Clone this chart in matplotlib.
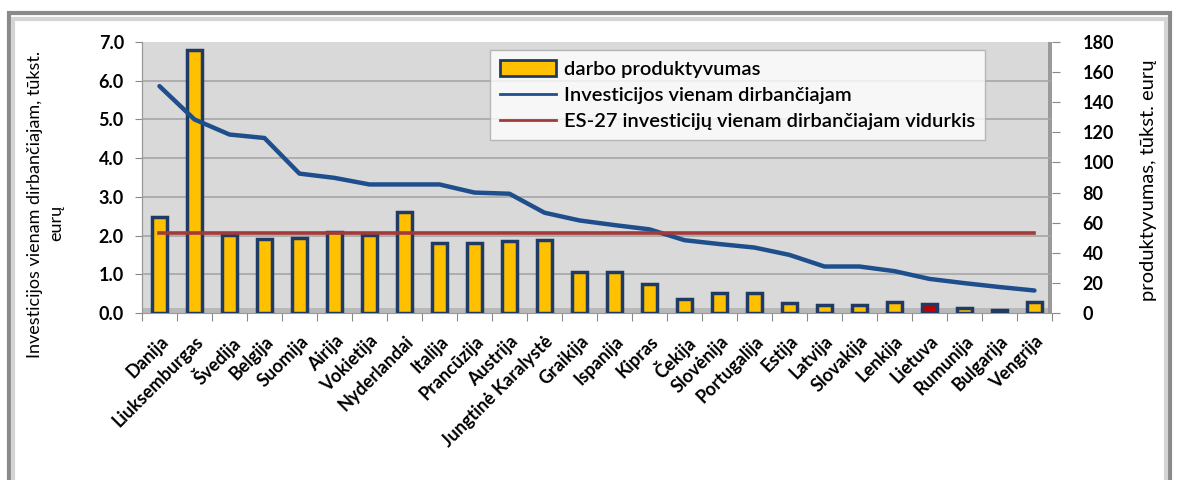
import matplotlib
matplotlib.use("Agg")
import matplotlib.pyplot as plt
import numpy as np
from matplotlib.patches import Rectangle, Patch
from matplotlib.lines import Line2D

plt.rcParams['font.family'] = ['Lato', 'DejaVu Sans']

countries = ["Danija", "Liuksemburgas", "Švedija", "Belgija", "Suomija", "Airija",
             "Vokietija", "Nyderlandai", "Italija", "Prancūzija", "Austrija",
             "Jungtinė Karalystė", "Graikija", "Ispanija", "Kipras", "Čekija",
             "Slovėnija", "Portugalija", "Estija", "Latvija", "Slovakija", "Lenkija",
             "Lietuva", "Rumunija", "Bulgarija", "Vengrija"]

# darbo produktyvumas, tukst. euru (desine asis)
productivity = [64, 175, 52, 49, 50, 54, 51.5, 67, 46.5, 46.5, 47.5, 48.5, 27.5, 27.5,
                19, 9.5, 13.5, 13, 6.5, 5.5, 5.5, 7.3, 5.7, 3, 2.2, 7.3]

# investicijos vienam dirbanciajam, tukst. euru (kaire asis)
investment = [5.86, 5.0, 4.61, 4.52, 3.6, 3.49, 3.32, 3.32, 3.32, 3.11, 3.08, 2.59,
              2.39, 2.27, 2.16, 1.88, 1.78, 1.69, 1.5, 1.2, 1.2, 1.08, 0.88, 0.77,
              0.67, 0.58]

eu27_avg = 2.07

highlight = "Lietuva"

x = np.arange(len(countries))
bar_colors = ['#C00000' if c == highlight else '#FFC000' for c in countries]

fig = plt.figure(figsize=(11.78, 4.8), dpi=100)
fig.patch.set_facecolor('white')

# outer frame
fig.patches.append(Rectangle((0.008, -0.01), 0.985, 0.983, transform=fig.transFigure,
                             facecolor='none', edgecolor='#8a8a8a', lw=3, zorder=0))
fig.patches.append(Rectangle((0.011, -0.01), 0.979, 0.970, transform=fig.transFigure,
                             facecolor='none', edgecolor='#d4d4d4', lw=3, zorder=0))

ax = fig.add_axes([0.1205, 0.348, 0.7725, 0.5645])
ax.set_facecolor('#d9d9d9')

# bars -> right axis (productivity)
ax.bar(x, productivity, width=0.42, color=bar_colors, edgecolor='#1F3B64',
       linewidth=2.5, zorder=3)
ax.set_ylim(0, 180)
ax.set_xlim(-0.5, len(countries) - 0.5)

ax.set_xticks(np.arange(-0.5, len(countries), 1))
ax.set_xticklabels([])
ax.set_xticks(x, minor=True)
ax.set_xticklabels(countries, minor=True, rotation=45, ha='right',
                   rotation_mode='anchor', fontsize=13, fontweight='bold')
ax.tick_params(axis='x', which='major', length=6, color='#888888')
ax.tick_params(axis='x', which='minor', length=0, pad=14)

for s in ['top', 'right']:
    ax.spines[s].set_visible(False)
ax.spines['left'].set_color('#999999')
ax.spines['bottom'].set_color('#999999')

# 3D-like wall shading
ax.axhspan(0, 3.5, color='#b8b8b8', zorder=1, lw=0)
ax.axvspan(len(countries) - 0.6, len(countries) - 0.5, color='#9a9a9a', zorder=1, lw=0)

# lines -> left axis (investment)
ax2 = ax.twinx()
ax2.yaxis.tick_left()
ax2.plot(x, investment, color='#1F4E8C', lw=3.2, zorder=4, solid_capstyle='round')
ax2.plot([x[0], x[-1]], [eu27_avg, eu27_avg], color='#A23A3A', lw=2.6, zorder=4)
ax2.set_ylim(0, 7)
ax2.set_yticks(np.arange(0, 7.1, 1))
ax2.set_yticklabels([f'{v:.1f}' for v in np.arange(0, 7.1, 1)])
ax2.tick_params(axis='y', length=5, color='#888888', labelsize=13, pad=8)
for t in ax2.get_yticklabels():
    t.set_fontweight('bold')
for s in ['top', 'right', 'bottom']:
    ax2.spines[s].set_visible(False)
ax2.spines['left'].set_color('#999999')

# right axis for bars (set after twinx, which resets ax ticks to the left)
ax.yaxis.tick_right()
ax.set_yticks(np.arange(0, 181, 20))
ax.set_yticks(np.arange(1, 8) * 180 / 7, minor=True)
ax.grid(which='minor', axis='y', color='#a6a6a6', lw=1.2, zorder=0)
ax.tick_params(axis='y', which='minor', length=0)
ax.tick_params(axis='y', which='major', length=6, color='#888888', labelsize=13, pad=16,
               right=True, left=False, labelright=True, labelleft=False)
for t in ax.get_yticklabels():
    t.set_fontweight('bold')

# axis titles
fig.text(0.030, 0.575, 'Investicijos vienam dirbančiajam, tūkst.', rotation=90,
         ha='center', va='center', fontsize=13)
fig.text(0.048, 0.535, 'eurų', rotation=90, ha='center', va='center', fontsize=13)
fig.text(0.975, 0.625, 'produktyvumas, tūkst. eurų', rotation=90,
         ha='center', va='center', fontsize=14.5)

handles = [Patch(facecolor='#FFC000', edgecolor='#1F3B64', lw=2),
           Line2D([], [], color='#1F4E8C', lw=2),
           Line2D([], [], color='#A23A3A', lw=2)]
labels = ['darbo produktyvumas', 'Investicijos vienam dirbančiajam',
          'ES-27 investicijų vienam dirbančiajam vidurkis']
leg = ax2.legend(handles, labels, loc='upper left', bbox_to_anchor=(0.382, 0.97),
                 borderaxespad=0, fontsize=14.5, frameon=True, fancybox=False,
                 edgecolor='#aaaaaa', handlelength=2.8, handleheight=0.8,
                 borderpad=0.5, labelspacing=0.42, handletextpad=0.4)
leg.get_frame().set_linewidth(1.0)
leg.set_zorder(10)
for t in leg.get_texts():
    t.set_fontweight('semibold')

fig.savefig('out.png', dpi=100)
